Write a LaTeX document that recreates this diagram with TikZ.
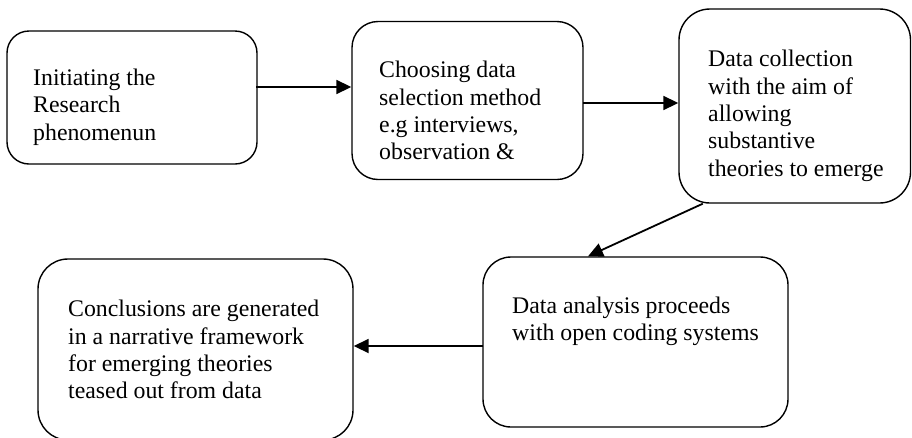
\documentclass[tikz,border=0pt]{standalone}
\usepackage{fontspec}
\setmainfont{Liberation Serif}
\usetikzlibrary{arrows.meta}
\begin{document}
\begin{tikzpicture}[x=1pt,y=-1pt,
  box/.style={draw, line width=1.4pt, inner sep=0pt, rectangle},
  txt/.style={anchor=base west, inner sep=0pt, font=\fontsize{23.8}{27.4}\selectfont},
  conn/.style={line width=1.8pt, -{Triangle[length=15pt,width=14pt]}}]
\useasboundingbox (0,0) rectangle (912,437);
\clip (0,0) rectangle (912,437);
% boxes
\node[box, rounded corners=22pt, minimum width=250pt, minimum height=133pt] (b1) at (132,97.5) {};
\node[box, rounded corners=26pt, minimum width=231pt, minimum height=158pt] (b2) at (467.5,100.5) {};
\node[box, rounded corners=31pt, minimum width=231.5pt, minimum height=194pt] (b3) at (794.75,106) {};
\node[box, rounded corners=28pt, minimum width=305pt, minimum height=170pt] (b4) at (635.5,342) {};
\node[box, rounded corners=30pt, minimum width=315pt, minimum height=181pt] (b5) at (195.5,349.5) {};
% texts
\node[txt] (t1) at (33,85.3) {\vtop{\hbox{Initiating the}\hbox{Research}\hbox{phenomenun}}};
\node[txt] (t2) at (379,77.7) {\vtop{\hbox{Choosing data}\hbox{selection method}\hbox{e.g interviews,}\hbox{observation \&}}};
\node[txt] (t3) at (708,66.7) {\vtop{\hbox{Data collection}\hbox{with the aim of}\hbox{allowing}\hbox{substantive}\hbox{theories to emerge}}};
\node[txt] (t4) at (512,313.3) {\vtop{\hbox{Data analysis proceeds}\hbox{with open coding systems}}};
\node[txt] (t5) at (68,316.7) {\vtop{\hbox{Conclusions are generated}\hbox{in a narrative framework}\hbox{for emerging theories}\hbox{teased out from data}}};
% connectors
\coordinate (a1) at (256,87);
\coordinate (a2) at (583,103);
\coordinate (a4) at (483,346);
\draw[conn] (a1) -- (a1 -| b2.west);
\draw[conn] (a2) -- (a2 -| b3.west);
\draw[conn] ([xshift=-92pt]b3.south) -- ([xshift=-47.5pt]b4.north);
\draw[conn] (a4) -- (a4 -| b5.east);
\end{tikzpicture}
\end{document}
